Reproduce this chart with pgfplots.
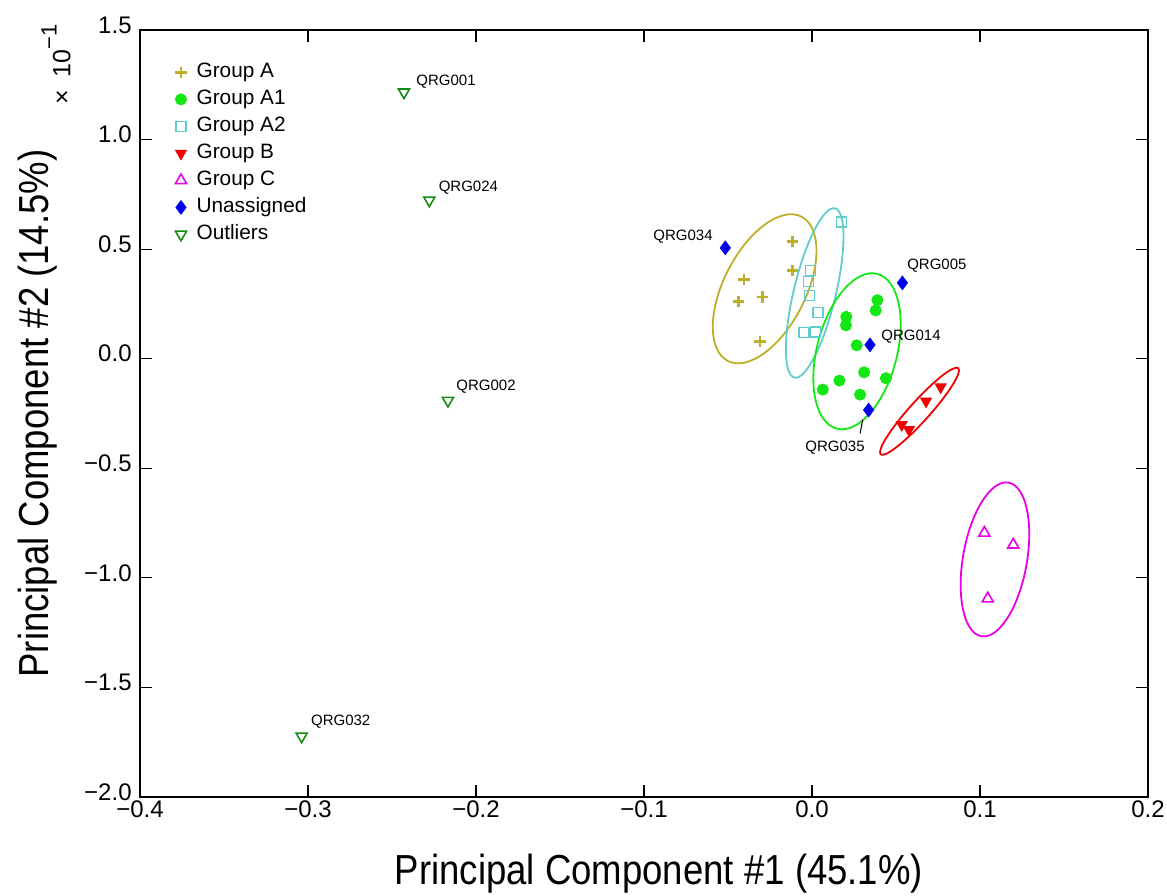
\documentclass[border=0pt]{standalone}
\usepackage{fontspec}
\setmainfont{Liberation Sans}
\newfontfamily\labfont[FakeStretch=0.87]{Liberation Sans}
\usepackage{pgfplots}
\pgfplotsset{compat=1.18}
\usetikzlibrary{shapes.geometric}

\definecolor{colA}{RGB}{190,175,40}
\definecolor{colAone}{RGB}{20,232,20}
\definecolor{colAtwo}{RGB}{95,205,205}
\definecolor{colB}{RGB}{240,0,0}
\definecolor{colC}{RGB}{232,0,232}
\definecolor{colU}{RGB}{0,0,235}
\definecolor{colO}{RGB}{20,140,20}

\begin{document}
\begin{tikzpicture}
\begin{axis}[
  scale only axis, width=504pt, height=383.5pt, clip=false,
  xmin=-0.4, xmax=0.2, ymin=-2, ymax=1.5,
  xtick={-0.4,-0.3,-0.2,-0.1,0,0.1,0.2},
  xticklabels={−0.4,−0.3,−0.2,−0.1,0.0,0.1,0.2},
  ytick={-2,-1.5,-1,-0.5,0,0.5,1,1.5},
  yticklabels={−2.0,−1.5,−1.0,−0.5,0.0,0.5,1.0,1.5},
  tick label style={font=\fontsize{12}{14}\selectfont},
  xticklabel style={inner sep=0pt, yshift=-1.5pt},
  yticklabel style={inner sep=0pt, xshift=-4pt, yshift=2.5pt},
  major tick length=6pt, tick style={black, line width=0.6pt},
  axis line style={line width=1.2pt},
  xlabel={Principal Component \#1 (45.1\%)},
  xlabel style={at={(axis description cs:0.5149,-0.1147)}, anchor=base, inner sep=0pt,
    font=\labfont\fontsize{21}{24}\selectfont},
  ylabel={Principal Component \#2 (14.5\%)},
  ylabel style={at={(axis description cs:-0.0903,0.5)}, anchor=base, inner sep=0pt,
    font=\labfont\fontsize{21}{24}\selectfont},
  legend cell align=left,
  legend style={draw=none, fill=none, at={(axis description cs:0,1)}, anchor=north west,
    xshift=17.5pt, yshift=-15.5pt, inner sep=0pt, row sep=2.5pt, column sep=4.5pt,
    font=\fontsize{10.4}{12}\selectfont,
    nodes={inner sep=0.5pt, text height=7.5pt, text depth=2.5pt}},
  legend image code/.code={\draw[mark repeat=2,mark phase=2] plot coordinates {(0cm,0cm) (0.2cm,0cm) (0.4cm,0cm)};},
]
% confidence ellipses
\node[draw=colA, line width=0.9pt, ellipse, minimum width=81pt, minimum height=41pt, inner sep=0pt, rotate=63] at (axis cs:-0.0282,0.319) {};
\node[draw=colAtwo, line width=0.9pt, ellipse, minimum width=87pt, minimum height=21pt, inner sep=0pt, rotate=76.5] at (axis cs:0.0016,0.300) {};
\node[draw=colAone, line width=0.9pt, ellipse, minimum width=80pt, minimum height=40pt, inner sep=0pt, rotate=75.3] at (axis cs:0.0268,0.034) {};
\node[draw=colB, line width=0.9pt, ellipse, minimum width=58pt, minimum height=10pt, inner sep=0pt, rotate=48] at (axis cs:0.064,-0.240) {};
\node[draw=colC, line width=0.9pt, ellipse, minimum width=78pt, minimum height=32pt, inner sep=0pt, rotate=80] at (axis cs:0.1089,-0.916) {};

\addplot[only marks, mark=+, mark size=2.8pt, color=colA, mark options={line width=1.4pt}] coordinates {
  (-0.0117,0.533) (-0.0115,0.402) (-0.0405,0.361) (-0.0439,0.262) (-0.0293,0.282) (-0.0310,0.079)};
\addlegendentry{Group A}
\addplot[only marks, mark=*, mark size=2.8pt, color=colAone] coordinates {
  (0.0389,0.267) (0.0379,0.220) (0.0204,0.191) (0.0202,0.152) (0.0266,0.061)
  (0.0310,-0.062) (0.0440,-0.089) (0.0163,-0.100) (0.0064,-0.141) (0.0286,-0.164)};
\addlegendentry{Group A1}
\addplot[only marks, mark=square, mark size=2.5pt, color=colAtwo, mark options={line width=0.7pt}] coordinates {
  (0.0177,0.623) (-0.0008,0.402) (-0.0022,0.351) (-0.0014,0.289) (0.0036,0.210) (-0.0048,0.119) (0.0020,0.122)};
\addlegendentry{Group A2}
\addplot[only marks, mark=triangle*, mark size=3.2pt, color=colB, mark options={rotate=180}] coordinates {
  (0.0766,-0.129) (0.0679,-0.194) (0.0534,-0.301) (0.0577,-0.324)};
\addlegendentry{Group B}
\addplot[only marks, mark=triangle, mark size=3.2pt, color=colC, mark options={line width=0.8pt}] coordinates {
  (0.1026,-0.795) (0.1198,-0.849) (0.1046,-1.095)};
\addlegendentry{Group C}
\addplot[only marks, mark=diamond*, mark size=3.4pt, color=colU] coordinates {
  (-0.0516,0.506) (0.0538,0.346) (0.0345,0.063) (0.0337,-0.234)};
\addlegendentry{Unassigned}
\addplot[only marks, mark=triangle, mark size=3.2pt, color=colO, mark options={rotate=180, line width=0.8pt}] coordinates {
  (-0.2429,1.216) (-0.2278,0.723) (-0.2167,-0.191) (-0.3038,-1.723)};
\addlegendentry{Outliers}

% sample labels
\begin{scope}[every node/.style={font=\fontsize{7.5}{9}\selectfont, inner sep=0pt}]
\node[anchor=west] at (axis cs:-0.2357,1.265) {QRG001};
\node[anchor=west] at (axis cs:-0.2224,0.780) {QRG024};
\node[anchor=west] at (axis cs:-0.2119,-0.127) {QRG002};
\node[anchor=west] at (axis cs:-0.2984,-1.655) {QRG032};
\node[anchor=east] at (axis cs:-0.0589,0.557) {QRG034};
\node[anchor=west] at (axis cs:0.0565,0.425) {QRG005};
\node[anchor=west] at (axis cs:0.0411,0.101) {QRG014};
\node at (axis cs:0.0137,-0.406) {QRG035};
\end{scope}
\draw[line width=0.5pt] (axis cs:0.0302,-0.278) -- (axis cs:0.0286,-0.342);

\node[rotate=90, inner sep=0pt, font=\fontsize{12.5}{14}\selectfont] at (axis description cs:-0.0833,0.955)
  {×\hspace{6pt}10\raisebox{0.55em}{\fontsize{11}{12}\selectfont−1}};
\end{axis}
\pgfresetboundingbox
\path ([shift={(-70pt,-49.5pt)}]current axis.south west) rectangle ([shift={(9.5pt,15pt)}]current axis.north east);
\end{tikzpicture}
\end{document}
